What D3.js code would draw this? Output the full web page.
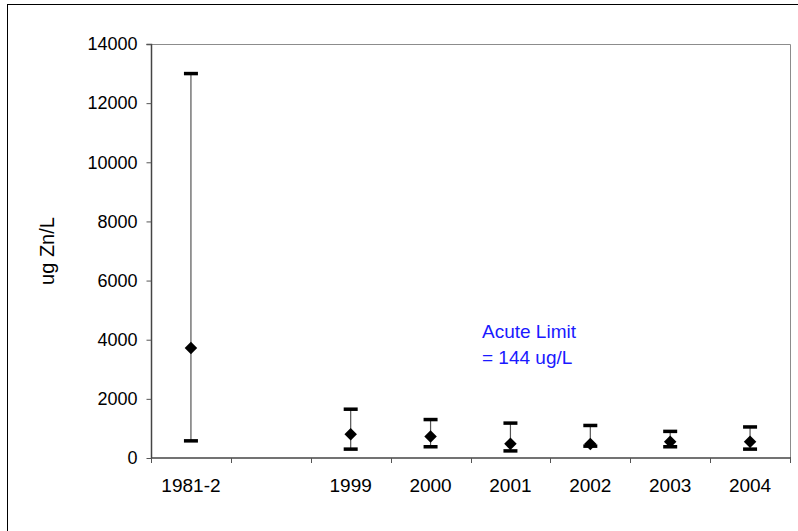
<!DOCTYPE html>
<html>
<head>
<meta charset="utf-8">
<script src="https://cdn.jsdelivr.net/npm/d3@7"></script>
<style>
  html, body { margin: 0; padding: 0; background: #fff; }
  svg { display: block; font-family: "Liberation Sans", Arial, sans-serif; }
</style>
</head>
<body>
<svg id="chart" width="798" height="531"></svg>
<script>
// Data
const categories = ["1981-2", "", "1999", "2000", "2001", "2002", "2003", "2004"];
const years      = ["1981-2", "1999", "2000", "2001", "2002", "2003", "2004"];
const meanValues = [3720, 800, 730, 480, 470, 550, 550];
const highValues = [13000, 1650, 1300, 1180, 1100, 900, 1050];
const lowValues  = [580, 300, 380, 240, 400, 380, 300];
const yTicks     = [0, 2000, 4000, 6000, 8000, 10000, 12000, 14000];
const yLabel = "ug Zn/L";
const noteLines = ["Acute Limit", "= 144 ug/L"];

const svg = d3.select("#chart");
const margin = { left: 151, top: 44, right: 790, bottom: 458 };

// Outer frame
svg.append("rect")
  .attr("x", 7.5).attr("y", 4.5)
  .attr("width", 800).attr("height", 540)
  .attr("fill", "none").attr("stroke", "#000").attr("stroke-width", 1);

const x = d3.scaleBand().domain(categories.map((c, i) => i))
  .range([margin.left, margin.right]).padding(0);
const y = d3.scaleLinear().domain([0, 14000]).range([margin.bottom, margin.top]);

// Plot area border (top & right)
svg.append("path")
  .attr("d", `M${margin.left},${margin.top + 0.5}H${margin.right + 0.5}V${margin.bottom}`)
  .attr("fill", "none").attr("stroke", "#8c8c8c").attr("stroke-width", 1);

// Y axis
const yAxis = d3.axisLeft(y).tickValues(yTicks).tickSize(5).tickPadding(9)
  .tickFormat(d3.format("d"));
const gy = svg.append("g").attr("transform", `translate(${margin.left + 0.5},0)`).call(yAxis);
gy.select(".domain").attr("stroke", "#444").attr("stroke-width", 1.5)
  .attr("d", `M-5,${y(14000) + 0.5}H0V${y(0)}`);
gy.selectAll(".tick line").attr("stroke", "#555");
gy.selectAll(".tick text").attr("font-size", 18).attr("fill", "#000")
  .attr("font-family", "Liberation Sans, Arial, sans-serif");

// X axis
const xAxis = d3.axisBottom(x).tickSize(0).tickPadding(21)
  .tickFormat(i => categories[i]);
const gx = svg.append("g").attr("transform", `translate(0,${margin.bottom})`).call(xAxis);
gx.select(".domain").attr("stroke", "#444").attr("stroke-width", 1.5)
  .attr("d", `M${margin.left},0H${margin.right + 1}`);
gx.selectAll(".tick text").attr("font-size", 19).attr("fill", "#000")
  .attr("font-family", "Liberation Sans, Arial, sans-serif");
// category boundary ticks
const bounds = d3.range(categories.length + 1).map(i => margin.left + i * x.bandwidth());
gx.selectAll(".bound").data(bounds).enter().append("line")
  .attr("x1", d => Math.round(d) + 0.5).attr("x2", d => Math.round(d) + 0.5)
  .attr("y1", 0).attr("y2", 5).attr("stroke", "#555").attr("stroke-width", 1);

// Y label
svg.append("text")
  .attr("transform", `translate(54,${(margin.top + margin.bottom) / 2}) rotate(-90)`)
  .attr("text-anchor", "middle").attr("font-size", 20).attr("fill", "#000")
  .text(yLabel);

// Data marks
const pts = years.map((yr, i) => ({
  cx: x(categories.indexOf(yr)) + x.bandwidth() / 2,
  mean: meanValues[i], hi: highValues[i], lo: lowValues[i]
}));
const g = svg.append("g");
g.selectAll(".err").data(pts).enter().append("line")
  .attr("x1", d => d.cx).attr("x2", d => d.cx)
  .attr("y1", d => y(d.hi)).attr("y2", d => y(d.lo))
  .attr("stroke", "#555").attr("stroke-width", 1.2);
["hi", "lo"].forEach(k => {
  g.selectAll(".cap-" + k).data(pts).enter().append("line")
    .attr("x1", d => d.cx - 7).attr("x2", d => d.cx + 7)
    .attr("y1", d => y(d[k])).attr("y2", d => y(d[k]))
    .attr("stroke", "#000").attr("stroke-width", 3.5);
});
const sym = d3.symbol().type(d3.symbolDiamond2).size(100);
g.selectAll(".pt").data(pts).enter().append("path")
  .attr("d", sym)
  .attr("transform", d => `translate(${d.cx},${y(d.mean)})`)
  .attr("fill", "#000");

// Note
const note = svg.append("text").attr("x", 482).attr("y", 338)
  .attr("font-size", 19).attr("fill", "#1a1aff");
noteLines.forEach((t, i) => note.append("tspan").attr("x", 482).attr("dy", i === 0 ? 0 : 26).text(t));
</script>
</body>
</html>
